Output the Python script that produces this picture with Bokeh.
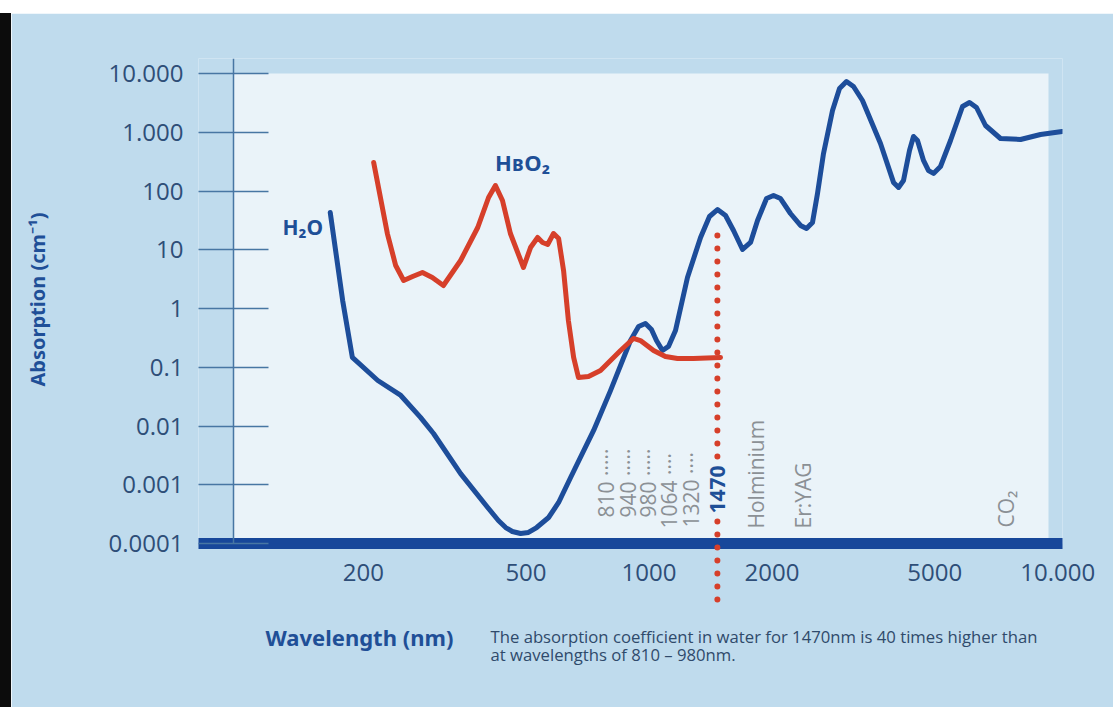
import math
from bokeh.plotting import figure
from bokeh.models import Range1d, FixedTicker, Label, Span, BoxAnnotation, Div, Spacer
from bokeh.core.properties import value
from bokeh.layouts import column, row
from bokeh.embed import file_html
from bokeh.resources import INLINE

# ---------------- data ----------------
h2o_wavelength_nm = [166, 178, 188, 217, 247, 276, 297, 346, 403, 428, 446, 463, 485, 507, 531,
                     568, 601, 643, 732, 805, 901, 943, 980, 1014, 1043, 1079, 1116, 1161, 1242, 1337,
                     1406, 1471, 1539, 1610, 1694, 1772, 1843, 1939, 2017, 2098, 2219, 2348, 2429, 2512,
                     2584, 2673, 2812, 2925, 3042, 3165, 3329, 3685, 3965, 4079, 4195, 4339, 4438, 4539,
                     4695, 4830, 4968, 5167, 5467, 5849, 6085, 6329, 6658, 7245, 8110, 9078, 10250]
h2o_absorption = [43.0, 1.37, 0.147, 0.0595, 0.0331, 0.0140, 0.00745, 0.00155, 0.00041, 0.000246,
                  0.000187, 0.000160, 0.000148, 0.000154, 0.000187, 0.000277, 0.000499, 0.00133, 0.0084,
                  0.040, 0.285, 0.494, 0.556, 0.439, 0.285, 0.193, 0.226, 0.422, 3.37, 16.2,
                  36.8, 48.4, 38.3, 21.3, 10.1, 13.3, 31.5, 74.5, 83.8, 74.5, 41.4, 25.9, 23.0, 29.1,
                  90.7, 435, 2345, 5555, 7308, 6007, 3471, 644, 140, 115, 151, 489, 847, 724,
                  331, 223, 199, 261, 724, 2744, 3209, 2638, 1303, 783, 753, 916, 1030]

hbo2_wavelength_nm = [212, 229, 240, 251, 264, 279, 295, 314, 346, 381, 405, 421, 438, 458, 493,
                      513, 534, 549, 565, 584, 601, 618, 635, 654, 672, 711, 761, 852, 916, 953,
                      1026, 1097, 1174, 1285, 1496]
hbo2_absorption = [306, 18.9, 5.39, 3.0, 3.5, 4.1, 3.37, 2.46, 6.56, 23.9, 77.5, 124, 68.9, 18.9, 4.99,
                   10.9, 16.2, 13.3, 12.3, 18.9, 15.5, 4.43, 0.625, 0.147, 0.0669, 0.0696, 0.0881, 0.193,
                   0.309, 0.285, 0.193, 0.152, 0.141, 0.141, 0.147]

x_ticks = [200, 500, 1000, 2000, 5000, 10000]
x_tick_labels = ["200", "500", "1000", "2000", "5000", "10.000"]
y_ticks = [0.0001, 0.001, 0.01, 0.1, 1, 10, 100, 1000, 10000]
y_tick_labels = ["0.0001", "0.001", "0.01", "0.1", "1", "10", "100", "1.000", "10.000"]

laser_labels = ["810 \u00b7\u00b7\u00b7\u00b7\u00b7", "940 \u00b7\u00b7\u00b7\u00b7\u00b7",
                "980 \u00b7\u00b7\u00b7\u00b7\u00b7", "1064 \u00b7\u00b7\u00b7\u00b7",
                "1320 \u00b7\u00b7\u00b7\u00b7", "Holminium", "Er:YAG", "CO\u2082"]
marker_wavelength = 1470
marker_label = "1470"
marker_top = 17.5
marker_bottom = 8.8e-6

# ---------------- layout helpers (picture pixels -> data) ----------------
XD, XC, YD = 408.7, -577.6, 58.75


def wx(px):
    return 10 ** ((px - XC) / XD)


def ay(py):
    return 10 ** (-4 + (543 - py) / YD)


BG = "#bfdbed"
PANEL = "#eaf3f9"
BLUE = "#1d4d9a"
BAR = "#17479a"
RED = "#d63f2a"
LBLUE = "#1f4f97"
GRAY = "#8b9095"
TICK = "#4776a3"
TICKTXT = "#2e4e78"
CAPTION = "#2f4a6b"

p = figure(width=1102, height=694, x_axis_type="log", y_axis_type="log",
           x_range=Range1d(wx(198), wx(1062)), y_range=Range1d(ay(543), ay(58)),
           output_backend="svg", toolbar_location=None,
           min_border_left=187, min_border_right=51, min_border_top=45, min_border_bottom=164)
p.background_fill_color = BG
p.border_fill_color = BG
p.outline_line_color = None
p.grid.visible = False

# plot panel
p.add_layout(BoxAnnotation(left=wx(233), right=wx(1048), bottom=ay(543), top=ay(73),
                           fill_color=PANEL, fill_alpha=1, line_color=None, level="underlay"))
p.add_layout(Span(location=wx(233), dimension="height", line_color=TICK, line_width=1.5))

# axes
p.xaxis.ticker = FixedTicker(ticks=x_ticks, minor_ticks=[])
p.xaxis.major_label_overrides = dict(zip(x_ticks, x_tick_labels))
p.xaxis.axis_line_width = 11
p.xaxis.axis_line_color = BAR
p.xaxis.axis_line_cap = "butt"
p.xaxis.major_tick_line_color = None
p.xaxis.minor_tick_line_color = None
p.xaxis.major_label_standoff = 14
p.xaxis.major_label_text_font = "Open Sans"
p.xaxis.major_label_text_font_size = "24px"
p.xaxis.major_label_text_color = TICKTXT

p.yaxis.ticker = FixedTicker(ticks=y_ticks, minor_ticks=[])
p.yaxis.major_label_overrides = dict(zip(y_ticks, y_tick_labels))
p.yaxis.axis_line_color = None
p.yaxis.major_tick_in = 70
p.yaxis.major_tick_out = 0
p.yaxis.major_tick_line_color = TICK
p.yaxis.major_tick_line_width = 1.5
p.yaxis.minor_tick_line_color = None
p.yaxis.major_label_standoff = 15
p.yaxis.major_label_text_font = "Open Sans"
p.yaxis.major_label_text_font_size = "24px"
p.yaxis.major_label_text_color = TICKTXT

# curves
p.line(h2o_wavelength_nm, h2o_absorption, line_color=BLUE, line_width=5,
       line_join="round", line_cap="round")
p.line(hbo2_wavelength_nm, hbo2_absorption, line_color=RED, line_width=5,
       line_join="round", line_cap="round")

# 1470 nm marker
p.segment(x0=[marker_wavelength], y0=[marker_top], x1=[marker_wavelength], y1=[marker_bottom],
          line_color=RED, line_width=6, line_dash="0 13", line_cap="round", level="overlay")


def txt(text, px, py, font="Open Sans", style="normal", size="21px", color=GRAY,
        align="left", angle=0.0):
    p.text(x=[wx(px)], y=[ay(py)], text=[text], text_font=value(font), text_font_style=style,
           text_font_size=size, text_color=color, text_align=align, text_baseline="middle",
           angle=angle, level="overlay")


txt("H\u2082O", 282, 226, font="Noto Sans", style="bold", size="21px", color=LBLUE)
txt("H\u0299O\u2082", 522, 161, font="Noto Sans", style="bold", size="22px", color=LBLUE,
    align="center")

laser_px = [605, 627, 647, 668, 690, 755, 802, 1005]
laser_py = [517, 517, 517, 528, 527, 528, 528, 527]
for t, lx, ly in zip(laser_labels, laser_px, laser_py):
    txt(t, lx, ly, size="21px", color=GRAY, angle=math.pi / 2)

p.add_layout(Label(x=marker_wavelength, y=ay(513), text=marker_label, angle=math.pi / 2,
                   text_font="Open Sans", text_font_style="bold", text_font_size="21px",
                   text_color=LBLUE, text_align="left", text_baseline="middle",
                   background_fill_color=PANEL, level="overlay"))

txt("Absorption (cm\u207b\u00b9)", 37, 299, font="Noto Sans", style="bold", size="20px",
    color=LBLUE, align="center", angle=math.pi / 2)
txt("Wavelength (nm)", 265, 636, font="Noto Sans", style="bold", size="22px", color=LBLUE)
txt("The absorption coefficient in water for 1470nm is 40 times higher than", 490, 636,
    size="16.7px", color=CAPTION)
txt("at wavelengths of 810 \u2013 980nm.", 490, 654, size="16.7px", color=CAPTION)

left_strip = Div(width=11, height=694, margin=0, styles={"background-color": "#0c0c0c"})
layout = column(Spacer(width=1113, height=13, margin=0), row(left_strip, p))

open("out.html", "w").write(file_html(layout, INLINE))
